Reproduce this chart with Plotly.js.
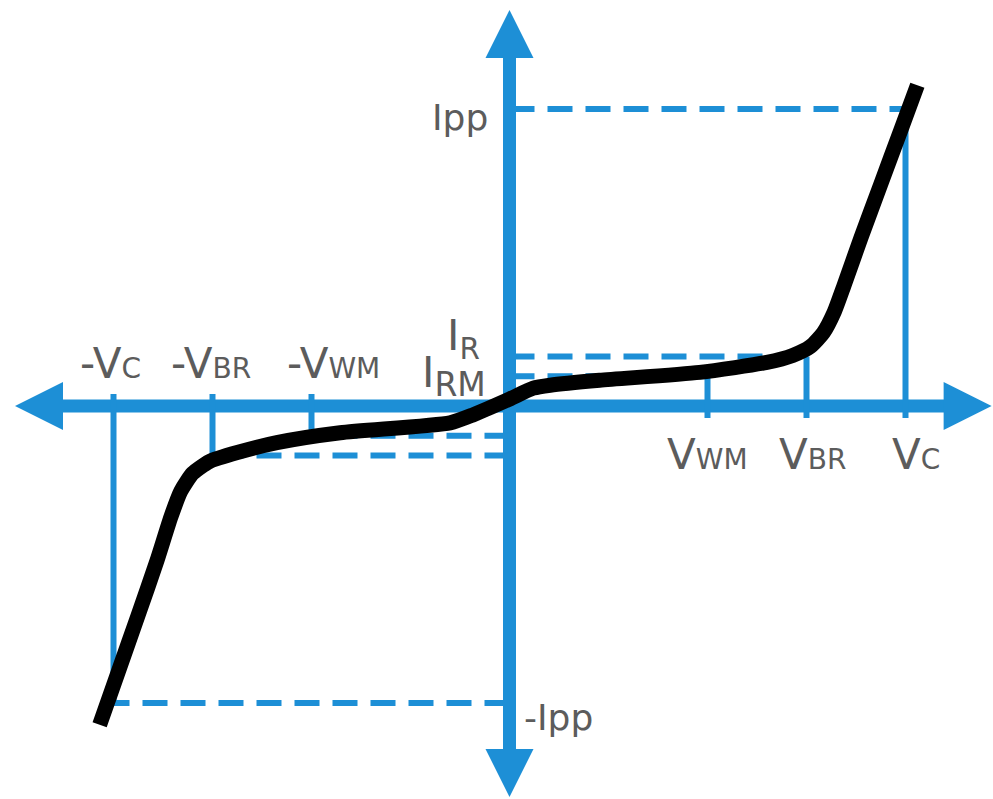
<!DOCTYPE html>
<html>
<head>
<meta charset="utf-8">
<script src="https://cdn.plot.ly/plotly-3.0.1.min.js"></script>
<style>
  html, body { margin: 0; padding: 0; background: #ffffff; }
  #chart { width: 993px; height: 799px; }
</style>
</head>
<body>
<div id="chart"></div>
<script>
// Bidirectional TVS diode I-V characteristic, normalised units.
const curveV = [-4.14, -3.95, -3.75, -3.56, -3.42, -3.32, -3.20, -3.03, -2.75, -2.35,
                -1.71, -0.60, -0.37, 0.00, 0.24, 0.41, 0.91, 1.92, 2.60, 2.86,
                3.04, 3.17, 3.28, 3.38, 3.55, 3.75, 3.95, 4.12];
const curveI = [-3.22, -2.68, -2.11, -1.56, -1.12, -0.86, -0.68, -0.56, -0.47, -0.37,
                -0.27, -0.17, -0.09, 0.07, 0.18, 0.21, 0.26, 0.34, 0.44, 0.51,
                0.60, 0.74, 0.95, 1.22, 1.70, 2.24, 2.78, 3.24];

// Characteristic points: stand-off (V_WM, I_RM), breakdown (V_BR, I_R), clamping (V_C, I_PP)
const voltLabels = ['WM', 'BR', 'C'];
const voltValues = [2, 3, 4];
const currLabels = ['RM', 'R', 'pp'];
const currValues = [0.3, 0.5, 3];

// Arrow tips of the two drawn axes
const vAxisTips = [-4.995, 4.87];
const iAxisTips = [-3.95, 4.0];

// ---- drawing setup ----
const PX = 99;                     // pixels per unit on both axes
const W = 993, H = 799, X0 = 509.5, Y0 = 406;
const BLUE = '#1d8fd6';
const GREY = '#5c5c5c';
const FONT = 'DejaVu Sans, Liberation Sans, Arial, sans-serif';
const ARROW = 48;                  // arrow-head marker size (px)
const inset = 30 / PX;             // axis line stops inside the arrow head
const over = 12 / PX;              // drop lines run a little past the axis

// Axis shafts plus arrow heads
const axisLines = {
  x: [vAxisTips[0] + inset, vAxisTips[1] - inset, null, 0, 0],
  y: [0, 0, null, iAxisTips[0] + inset, iAxisTips[1] - inset],
  mode: 'lines', line: { color: BLUE, width: 13 }, hoverinfo: 'skip'
};
const axisHeads = {
  x: [vAxisTips[0], vAxisTips[1], 0, 0],
  y: [0, 0, iAxisTips[0], iAxisTips[1]],
  mode: 'markers',
  marker: { symbol: ['arrow-left', 'arrow-right', 'arrow-down', 'arrow-up'],
            size: ARROW, color: BLUE, line: { width: 0 } },
  hoverinfo: 'skip'
};

// Vertical drop lines from each characteristic point to the voltage axis
const dropX = [], dropY = [];
voltValues.forEach((v, k) => {
  const i = currValues[k];
  dropX.push(v, v, null, -v, -v, null);
  dropY.push(i, -over, null, -i, over, null);
});
const dropLines = {
  x: dropX, y: dropY, mode: 'lines',
  line: { color: BLUE, width: 6 }, hoverinfo: 'skip'
};

// Dashed current levels from the current axis to each characteristic point
const dashX = [], dashY = [];
voltValues.forEach((v, k) => {
  const i = currValues[k];
  dashX.push(0, v, null);
  dashY.push(i, i, null);
  if (k < 2) { dashX.push(0, -v, null); dashY.push(-i, -i, null); }
});
dashX.push(0, -voltValues[2], null);
dashY.push(-currValues[2], -currValues[2], null);
const dashLines = {
  x: dashX, y: dashY, mode: 'lines',
  line: { color: BLUE, width: 6, dash: '25px,13px' }, hoverinfo: 'skip'
};

const ivCurve = {
  x: curveV, y: curveI, mode: 'lines',
  line: { color: '#000000', width: 15, shape: 'spline', smoothing: 0.6 },
  hoverinfo: 'skip'
};

// Labels
const sm = (t, s) => '<span style="font-size:' + s + 'px">' + t + '</span>';
const annotations = [];
const posShift = [0, 6, 10];
const negShift = [22, -2, -3];
voltValues.forEach((v, k) => {
  annotations.push({ x: v, y: 0, text: 'V' + sm(voltLabels[k], 28), xshift: posShift[k], yshift: -48 });
  annotations.push({ x: -v, y: 0, text: '-V' + sm(voltLabels[k], 28), xshift: negShift[k], yshift: 43 });
});
annotations.push({ x: 0, y: currValues[0], text: 'I<sub>' + sm(currLabels[0], 33) + '</sub>',
                   xanchor: 'right', xshift: -22, yshift: 0 });
annotations.push({ x: 0, y: currValues[1], text: 'I<sub>' + currLabels[1] + '</sub>',
                   xanchor: 'right', xshift: -28, yshift: 18 });
annotations.push({ x: 0, y: currValues[2], text: 'I' + currLabels[2],
                   xanchor: 'right', xshift: -20, yshift: -8, font: { size: 36 } });
annotations.push({ x: 0, y: -currValues[2], text: '-I' + currLabels[2],
                   xanchor: 'left', xshift: 12, yshift: -14, font: { size: 36 } });
annotations.forEach(a => {
  a.showarrow = false;
  a.xref = 'x'; a.yref = 'y';
  if (!a.xanchor) a.xanchor = 'center';
  a.yanchor = 'middle';
  a.font = Object.assign({ family: FONT, size: 42, color: GREY }, a.font || {});
});

const layout = {
  width: W, height: H,
  margin: { l: 0, r: 0, t: 0, b: 0, pad: 0 },
  paper_bgcolor: '#ffffff', plot_bgcolor: '#ffffff',
  showlegend: false,
  xaxis: { range: [-X0 / PX, (W - X0) / PX], visible: false, fixedrange: true },
  yaxis: { range: [-(H - Y0) / PX, Y0 / PX], visible: false, fixedrange: true },
  annotations: annotations
};

Plotly.newPlot('chart', [axisLines, axisHeads, dropLines, dashLines, ivCurve], layout,
               { displayModeBar: false, staticPlot: true });
</script>
</body>
</html>
